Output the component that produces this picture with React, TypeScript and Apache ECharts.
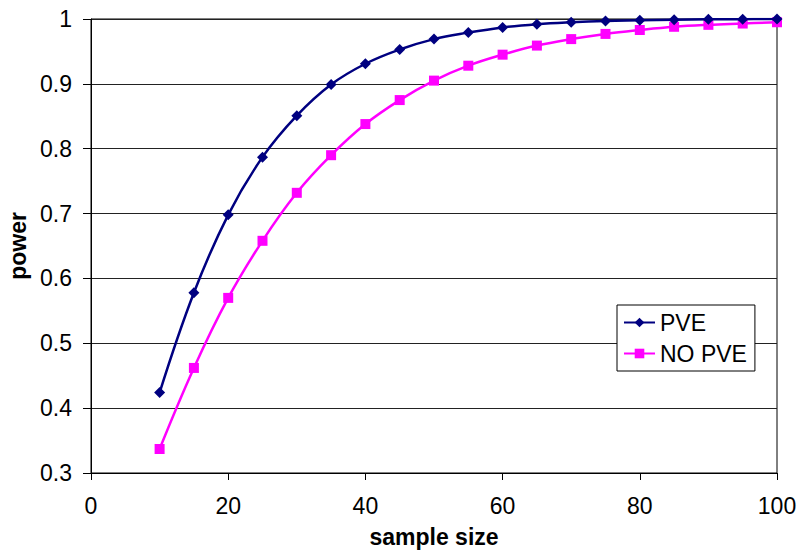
import React, { useEffect, useRef } from "react";
import * as echarts from "echarts";

const sampleSizes = [10, 15, 20, 25, 30, 35, 40, 45, 50, 55, 60, 65, 70, 75, 80, 85, 90, 95, 100];
const pveValues = [0.424, 0.578, 0.698, 0.787, 0.851, 0.899, 0.931, 0.953, 0.969, 0.979, 0.987, 0.992, 0.995, 0.997, 0.998, 0.999, 0.9995, 0.9998, 1.0];
const noPveValues = [0.337, 0.462, 0.570, 0.658, 0.732, 0.790, 0.838, 0.875, 0.905, 0.928, 0.945, 0.959, 0.969, 0.977, 0.983, 0.988, 0.991, 0.993, 0.995];
const seriesNames = ["PVE", "NO PVE"];

const FONT = "'Liberation Sans', Arial, sans-serif";

export default function App() {
  const ref = useRef<HTMLDivElement>(null);
  useEffect(() => {
    if (!ref.current) return;
    const chart = echarts.init(ref.current, undefined, { renderer: "svg" });
    chart.setOption({
      animation: false,
      backgroundColor: "#ffffff",
      grid: {
        left: 91,
        right: 23,
        top: 19,
        bottom: 87,
        containLabel: false,
        outerBoundsMode: "none",
        show: true,
        borderColor: "#000",
        borderWidth: 1,
        backgroundColor: "#fff",
      },
      legend: {
        orient: "vertical",
        left: 617,
        top: 305,
        padding: [6, 8, 6, 6],
        itemGap: 8,
        itemWidth: 31,
        itemHeight: 12,
        backgroundColor: "#fff",
        borderColor: "#000",
        borderWidth: 1,
        borderRadius: 0,
        textStyle: { fontFamily: FONT, fontSize: 23, color: "#000" },
        data: seriesNames,
      },
      xAxis: {
        type: "value",
        min: 0,
        max: 100,
        interval: 20,
        name: "sample size",
        nameLocation: "middle",
        nameGap: 52,
        nameTextStyle: { fontFamily: FONT, fontSize: 23, fontWeight: "bold", color: "#000" },
        axisLine: { show: true, lineStyle: { color: "#000", width: 1 } },
        axisTick: { show: true, inside: false, length: 7, lineStyle: { color: "#000" } },
        axisLabel: { fontFamily: FONT, fontSize: 23, color: "#000", margin: 21 },
        splitLine: { show: false },
      },
      yAxis: {
        type: "value",
        min: 0.3,
        max: 1,
        interval: 0.1,
        name: "power",
        nameLocation: "middle",
        nameGap: 62,
        nameRotate: 90,
        nameTextStyle: { fontFamily: FONT, fontSize: 23, fontWeight: "bold", color: "#000" },
        axisLine: { show: true, lineStyle: { color: "#000", width: 1 } },
        axisTick: { show: true, inside: false, length: 8, lineStyle: { color: "#000" } },
        axisLabel: {
          fontFamily: FONT,
          fontSize: 23,
          color: "#000",
          margin: 19,
          formatter: (v: number) => String(Math.round(v * 10) / 10),
        },
        splitLine: { show: true, lineStyle: { color: "#222", width: 1 } },
      },
      series: [
        {
          name: seriesNames[0],
          type: "line",
          smooth: 0.4,
          data: sampleSizes.map((x, i) => [x, pveValues[i]]),
          symbol: "diamond",
          symbolSize: 11,
          lineStyle: { color: "#000080", width: 2.5 },
          itemStyle: { color: "#000080" },
          z: 3,
        },
        {
          name: seriesNames[1],
          type: "line",
          smooth: 0.4,
          data: sampleSizes.map((x, i) => [x, noPveValues[i]]),
          symbol: "rect",
          symbolSize: 10,
          lineStyle: { color: "#ff00ff", width: 2.5 },
          itemStyle: { color: "#ff00ff" },
          z: 2,
        },
      ],
    });
    return () => chart.dispose();
  }, []);
  return <div ref={ref} style={{ width: 800, height: 560, position: "absolute", left: 0, top: 0 }} />;
}
